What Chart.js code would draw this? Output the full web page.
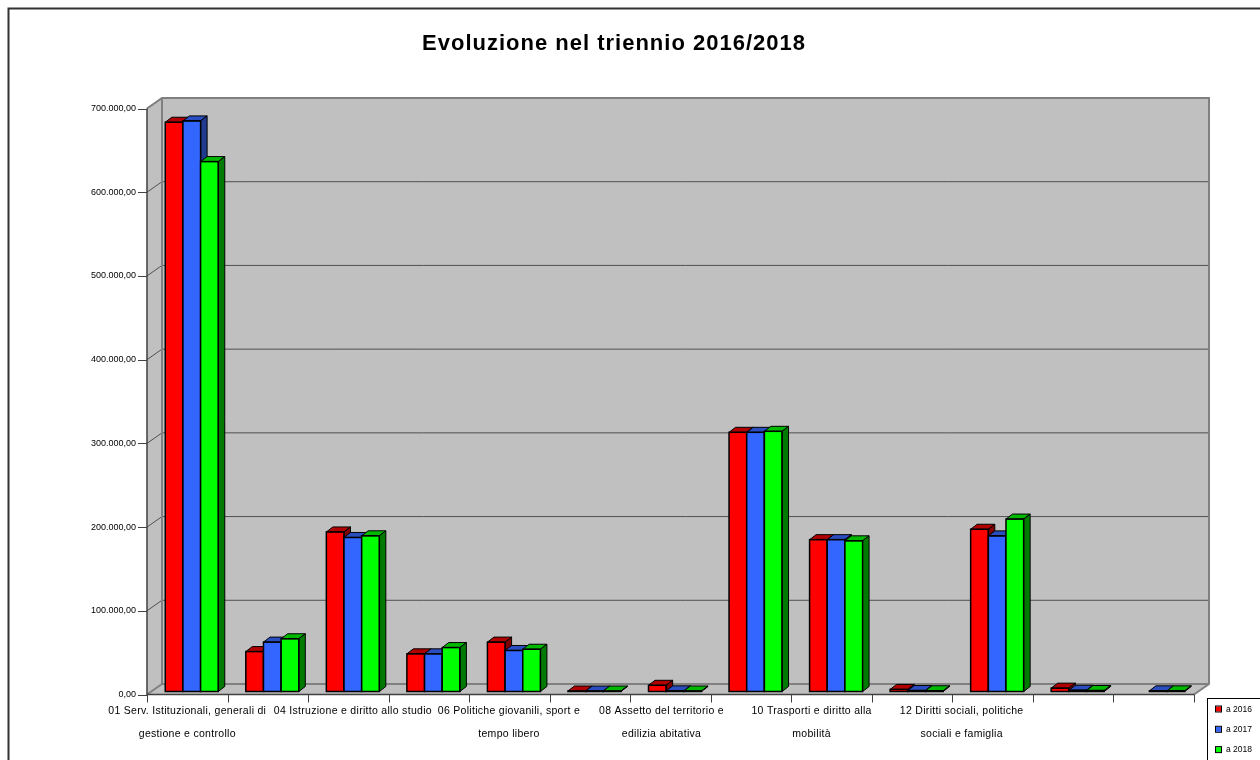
<!DOCTYPE html>
<html>
<head>
<meta charset="utf-8">
<title>Evoluzione nel triennio 2016/2018</title>
<script src="https://cdn.jsdelivr.net/npm/chart.js@4/dist/chart.umd.min.js"></script>
<style>
  html, body { margin: 0; padding: 0; background: #fff; }
  canvas { display: block; }
</style>
</head>
<body>
<canvas id="chart" width="1260" height="760"></canvas>
<script>
// categorie (missioni)
const categories = [
  '01 Serv. Istituzionali, generali di gestione e controllo',
  '03 Ordine pubblico e sicurezza',
  '04 Istruzione e diritto allo studio',
  '05 Tutela e valorizzazione dei beni e attività culturali',
  '06 Politiche giovanili, sport e tempo libero',
  '07 Turismo',
  '08 Assetto del territorio e edilizia abitativa',
  '09 Sviluppo sostenibile e tutela del territorio e dell\'ambiente',
  '10 Trasporti e diritto alla mobilità',
  '11 Soccorso civile',
  '12 Diritti sociali, politiche sociali e famiglia',
  '14 Sviluppo economico e competitività',
  '20 Fondi e accantonamenti'
];
// etichette visibili sull'asse (una sì e una no)
const tickLines = [
  ['01 Serv. Istituzionali, generali di', 'gestione e controllo'], null,
  ['04 Istruzione e diritto allo studio'], null,
  ['06 Politiche giovanili, sport e', 'tempo libero'], null,
  ['08 Assetto del territorio e', 'edilizia abitativa'], null,
  ['10 Trasporti e diritto alla', 'mobilità'], null,
  ['12 Diritti sociali, politiche', 'sociali e famiglia'], null, null
];
// spostamento orizzontale delle etichette come nell'originale
const tickShift = [0, 0, 4.5, 0, -0.5, 0, -9, 0, -20, 0, -31, 0, 0];
const seriesLabels = ['a 2016', 'a 2017', 'a 2018'];
const a2016 = [680000, 47700, 190600, 45000, 59000, 600, 7400, 309600, 181400, 2500, 193800, 4000, null];
const a2017 = [681600, 59000, 184000, 45000, 49000, 500, 800, 309600, 181400, 1200, 185900, 1500, 800];
const a2018 = [633000, 63000, 186000, 52500, 50500, 500, 600, 310800, 180000, 900, 206000, 1200, 800];
const yTicks = [0, 100000, 200000, 300000, 400000, 500000, 600000, 700000];

const colors = ['#FF0000', '#3366FF', '#00FF00'];
const topColors = ['#B00000', '#2A4DBF', '#00B800'];
const sideColors = ['#800000', '#1F3A8F', '#007A00'];

// offset prospettici rispetto al piano delle barre
const FRONT = { dx: -4.5, dy: 3 };
const BACK = { dx: 10.5, dy: -7.5 };
const DEPTH = { dx: 6.5, dy: -5 };
const FONT = '"Liberation Sans", Arial, sans-serif';

function fmtIt(v) {
  const s = Math.round(v).toString().replace(/\B(?=(\d{3})+(?!\d))/g, '.');
  return s + ',00';
}

function poly(ctx, pts, fill, stroke, lw) {
  ctx.beginPath();
  ctx.moveTo(pts[0][0], pts[0][1]);
  for (let i = 1; i < pts.length; i++) ctx.lineTo(pts[i][0], pts[i][1]);
  ctx.closePath();
  if (fill) { ctx.fillStyle = fill; ctx.fill(); }
  if (stroke) { ctx.strokeStyle = stroke; ctx.lineWidth = lw || 1; ctx.stroke(); }
}

// pareti, pavimento, griglia, titolo, legenda, etichette
const wallsPlugin = {
  id: 'walls3d',
  beforeDatasetsDraw(chart) {
    const ctx = chart.ctx;
    const ca = chart.chartArea;
    const y = chart.scales.y;
    const x = chart.scales.x;
    const fl = ca.left + FRONT.dx, fr = ca.right + FRONT.dx;
    const bl = ca.left + BACK.dx, br = ca.right + BACK.dx;
    const fb = ca.bottom + FRONT.dy, ft = ca.top + FRONT.dy;
    const bb = ca.bottom + BACK.dy, bt = ca.top + BACK.dy;
    ctx.save();

    // cornice esterna
    ctx.strokeStyle = '#333';
    ctx.lineWidth = 2;
    ctx.beginPath();
    ctx.moveTo(8.5, 780);
    ctx.lineTo(8.5, 8.5);
    ctx.lineTo(1270, 8.5);
    ctx.stroke();

    // titolo
    ctx.fillStyle = '#000';
    ctx.font = 'bold 22px ' + FONT;
    ctx.textAlign = 'center';
    ctx.textBaseline = 'middle';
    try { ctx.letterSpacing = '1px'; } catch (e) {}
    ctx.fillText('Evoluzione nel triennio 2016/2018', 614, 44);
    try { ctx.letterSpacing = '0px'; } catch (e) {}

    // parete di fondo, parete sinistra, pavimento
    poly(ctx, [[bl, bt], [br, bt], [br, bb], [bl, bb]], '#C0C0C0');
    poly(ctx, [[fl, ft], [bl, bt], [bl, bb], [fl, fb]], '#C0C0C0');
    poly(ctx, [[fl, fb], [bl, bb], [br, bb], [fr, fb]], '#C0C0C0');

    // griglia orizzontale
    ctx.lineWidth = 1;
    ctx.strokeStyle = '#505050';
    yTicks.forEach(v => {
      if (v === 0) return;
      const py = y.getPixelForValue(v);
      ctx.beginPath();
      ctx.moveTo(fl, py + FRONT.dy);
      ctx.lineTo(bl, py + BACK.dy);
      ctx.lineTo(br, py + BACK.dy);
      ctx.stroke();
    });

    // bordi delle pareti
    ctx.strokeStyle = '#808080';
    ctx.lineWidth = 2;
    ctx.beginPath();
    ctx.moveTo(fl, ft); ctx.lineTo(bl, bt); ctx.lineTo(br, bt); ctx.lineTo(br, bb); ctx.lineTo(fr, fb);
    ctx.moveTo(bl, bt); ctx.lineTo(bl, bb); ctx.lineTo(br, bb);
    ctx.moveTo(fl, fb); ctx.lineTo(bl, bb);
    ctx.stroke();

    // assi frontali
    ctx.strokeStyle = '#404040';
    ctx.lineWidth = 1.5;
    ctx.beginPath();
    ctx.moveTo(fl, ft); ctx.lineTo(fl, fb); ctx.lineTo(fr, fb);
    ctx.stroke();
    ctx.lineWidth = 1;
    ctx.beginPath();
    yTicks.forEach(v => {
      const py = Math.round(y.getPixelForValue(v) + FRONT.dy) + 0.5;
      ctx.moveTo(fl - 9, py); ctx.lineTo(fl, py);
    });
    const n = categories.length;
    const step = (x.getPixelForValue(1) - x.getPixelForValue(0));
    for (let i = 0; i <= n; i++) {
      const px = Math.round(x.getPixelForValue(0) - step / 2 + i * step + FRONT.dx) + 0.5;
      ctx.moveTo(px, fb); ctx.lineTo(px, fb + 8);
    }
    ctx.stroke();

    // etichette asse categorie
    ctx.fillStyle = '#000';
    ctx.font = '10.5px ' + FONT;
    ctx.textAlign = 'center';
    ctx.textBaseline = 'middle';
    try { ctx.letterSpacing = '0.3px'; } catch (e) {}
    tickLines.forEach((lines, i) => {
      if (!lines) return;
      const px = x.getPixelForValue(i) + FRONT.dx + tickShift[i];
      lines.forEach((t, k) => ctx.fillText(t, px, fb + 17 + k * 23));
    });
    try { ctx.letterSpacing = '0px'; } catch (e) {}

    // legenda
    const lx = 1207.5, ly = 698.5;
    ctx.fillStyle = '#fff';
    ctx.fillRect(lx, ly, 70, 80);
    ctx.strokeStyle = '#000';
    ctx.lineWidth = 1;
    ctx.strokeRect(lx, ly, 70, 80);
    ctx.font = '8.5px ' + FONT;
    ctx.textAlign = 'left';
    ctx.textBaseline = 'middle';
    chart.data.datasets.forEach((ds, i) => {
      const cy = 709 + i * 20.3;
      ctx.fillStyle = ds.backgroundColor;
      ctx.fillRect(1216, cy - 2.5, 5, 5);
      ctx.strokeStyle = '#000';
      ctx.strokeRect(1215.5, cy - 3, 6, 6);
      ctx.fillStyle = '#000';
      ctx.fillText(ds.label, 1226, cy + 0.5);
    });

    ctx.restore();
  },
  // ridisegna le barre serie per serie con facce superiori e laterali
  afterDatasetsDraw(chart) {
    const ctx = chart.ctx;
    ctx.save();
    ctx.lineJoin = 'miter';
    chart.data.datasets.forEach((ds, di) => {
      const meta = chart.getDatasetMeta(di);
      meta.data.forEach((el, i) => {
        if (ds.data[i] === null || ds.data[i] === undefined) return;
        const p = el.getProps(['x', 'y', 'base', 'width'], true);
        const l = p.x - p.width / 2, r = p.x + p.width / 2;
        const t = Math.min(p.y, p.base - 0.5), b = p.base;
        ctx.fillStyle = colors[di];
        ctx.fillRect(l, t, r - l, b - t);
        poly(ctx, [[l, t], [r, t], [r + DEPTH.dx, t + DEPTH.dy], [l + DEPTH.dx, t + DEPTH.dy]], topColors[di], '#000', 1);
        poly(ctx, [[r, t], [r + DEPTH.dx, t + DEPTH.dy], [r + DEPTH.dx, b + DEPTH.dy], [r, b]], sideColors[di], '#000', 1);
        ctx.strokeStyle = '#000';
        ctx.lineWidth = 1.5;
        ctx.strokeRect(l, t, r - l, b - t);
      });
    });
    ctx.restore();
  }
};

const datasets = [a2016, a2017, a2018].map((vals, i) => ({
  label: seriesLabels[i],
  data: vals,
  backgroundColor: colors[i],
  borderColor: '#000',
  borderWidth: 0,
  borderSkipped: false,
  categoryPercentage: 0.658,
  barPercentage: 1.0
}));

new Chart(document.getElementById('chart'), {
  type: 'bar',
  data: { labels: categories, datasets: datasets },
  options: {
    responsive: false,
    animation: false,
    layout: { padding: { top: 105.5, right: 61.5, bottom: 0, left: 0 } },
    plugins: {
      legend: { display: false },
      title: { display: false },
      tooltip: { enabled: false }
    },
    scales: {
      x: {
        grid: { display: false },
        border: { display: false },
        afterFit: s => { s.height = 760 - 105.5 - 586; },
        ticks: { display: false }
      },
      y: {
        min: 0,
        max: 700000,
        afterFit: s => { s.width = 151.5; },
        afterBuildTicks: s => { s.ticks = yTicks.map(v => ({ value: v })); },
        grid: { display: false },
        border: { display: false },
        ticks: {
          padding: 7.5,
          labelOffset: 3,
          color: '#000',
          font: { family: FONT, size: 9 },
          callback: v => fmtIt(v)
        }
      }
    }
  },
  plugins: [wallsPlugin]
});
</script>
</body>
</html>
